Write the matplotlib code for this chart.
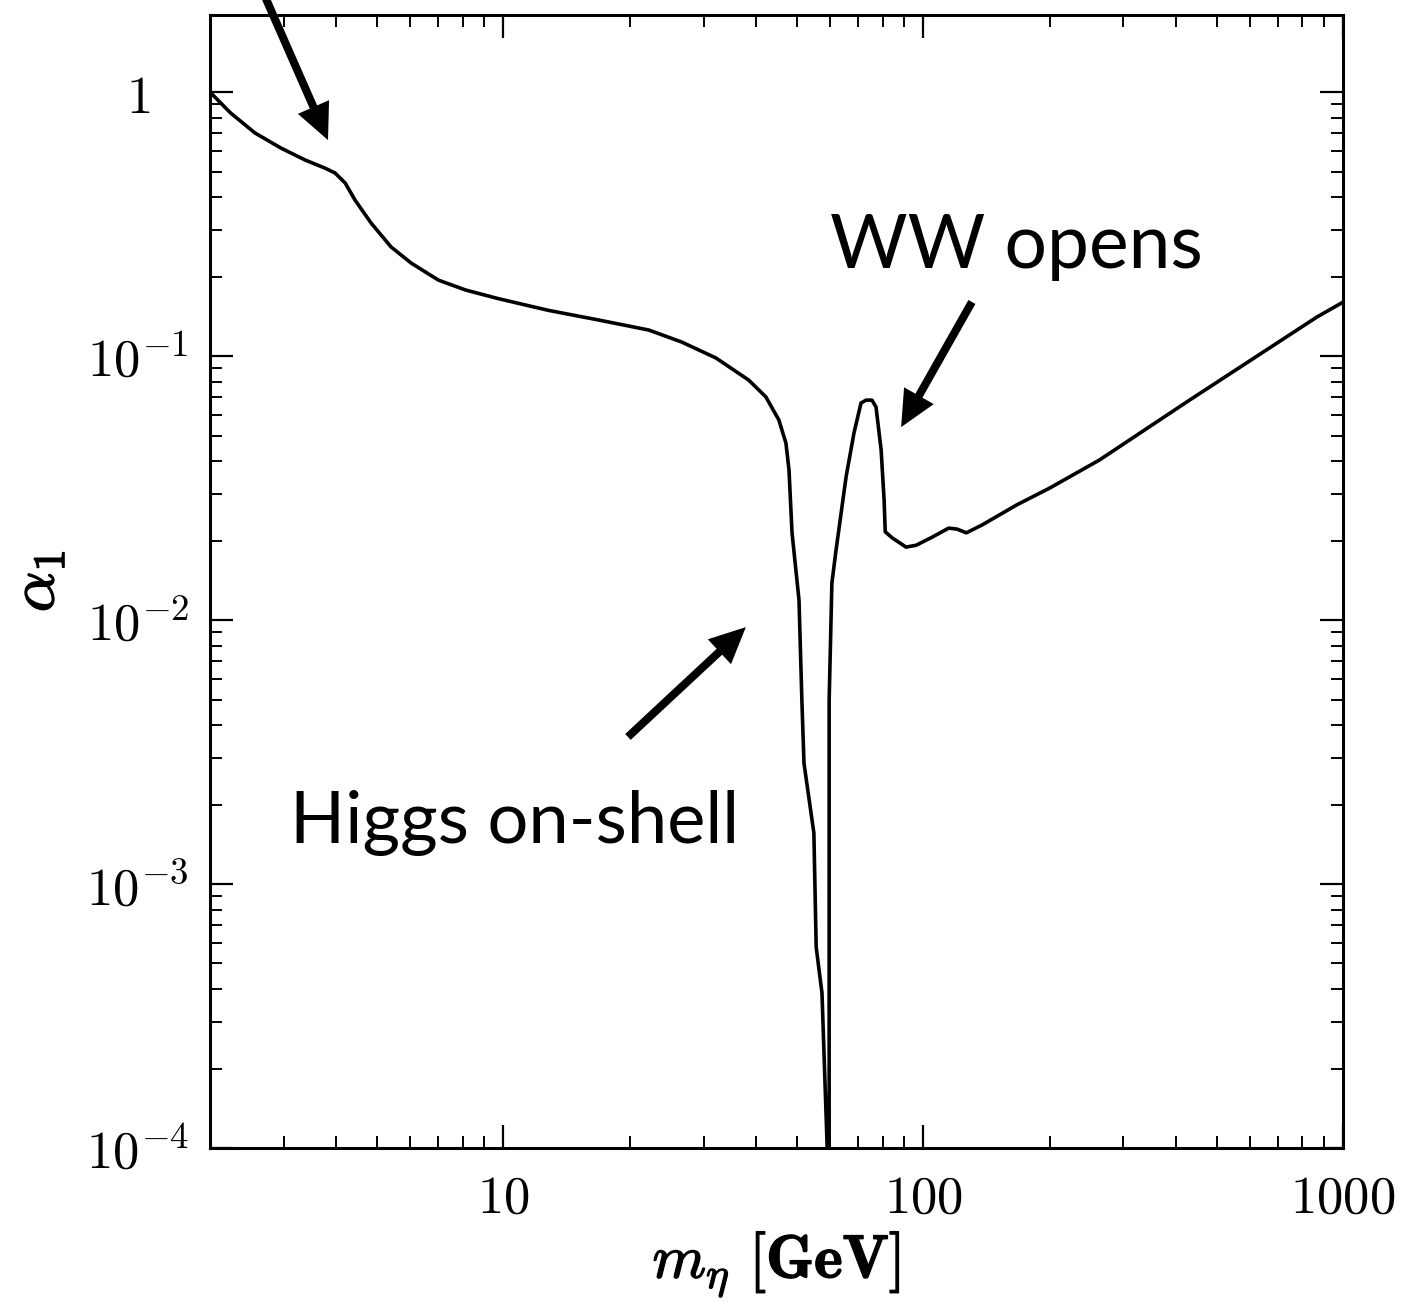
import numpy as np
import matplotlib
matplotlib.use("Agg")
from matplotlib import pyplot as plt
from matplotlib import patheffects
from matplotlib.ticker import FixedLocator, LogLocator, NullFormatter

plt.rcParams['mathtext.fontset'] = 'cm'

# relic-density curve alpha_1 vs m_eta
m_eta = [2.0, 2.24, 2.56, 2.95, 3.37, 3.76, 3.97, 4.20, 4.43, 4.84, 5.40, 6.03,
         7.00, 8.12, 9.73, 12.8, 16.85, 22.2, 26.6, 32.1, 38.4, 42.2, 45.3,
         47.1, 47.9, 48.7, 50.6, 51.4, 52.0, 54.9, 55.6, 57.4, 59.0, 59.3,
         59.7, 59.7, 59.7, 60.6, 62.0, 65.5, 68.4, 71.1, 73.1, 75.5, 77.2,
         79.4, 80.7, 81.2, 84.3, 91.0, 96.2, 105, 115, 120.5, 126.7, 138, 167,
         200, 263, 431, 867, 1000]
alpha1 = [1.0, 0.833, 0.70, 0.614, 0.553, 0.515, 0.494, 0.452, 0.390, 0.319,
          0.259, 0.225, 0.194, 0.178, 0.165, 0.149, 0.137, 0.1255, 0.113,
          0.0983, 0.0811, 0.070, 0.0573, 0.0468, 0.037, 0.0214, 0.0119,
          0.00498, 0.00287, 0.00156, 0.000577, 0.000386, 0.000105, 0.00008,
          0.0001, 0.0025, 0.00498, 0.0138, 0.0184, 0.0348, 0.0511, 0.0664,
          0.0681, 0.0681, 0.0641, 0.0441, 0.0285, 0.0216, 0.0205, 0.0189,
          0.0192, 0.0206, 0.0223, 0.0221, 0.0214, 0.0229, 0.0273, 0.0316,
          0.0404, 0.0681, 0.1406, 0.160]

x_ticks = [10, 100, 1000]
x_ticklabels = [r'$10$', r'$100$', r'$1000$']
y_ticks = [1e-4, 1e-3, 1e-2, 1e-1, 1]
y_ticklabels = [r'$10^{-4}$', r'$10^{-3}$', r'$10^{-2}$', r'$10^{-1}$', r'$1$']

# annotation arrows: tip (data), tail (axes fraction)
arrows = [
    ((3.82, 0.658), (0.046, 1.022)),
    ((88.6, 0.0538), (0.6725, 0.7467)),
    ((37.8, 0.0094), (0.3689, 0.3628)),
]

fig = plt.figure(figsize=(14.03, 13.02), dpi=100)
ax = fig.add_axes([0.1497, 0.1183, 0.8075, 0.8702])

ax.plot(m_eta, alpha1, color='black', lw=2.6, solid_joinstyle='round')
ax.set_xscale('log')
ax.set_yscale('log')
ax.set_xlim(2, 1000)
ax.set_ylim(1e-4, 1.96)

ax.xaxis.set_major_locator(FixedLocator(x_ticks))
ax.set_xticklabels(x_ticklabels)
ax.xaxis.set_minor_locator(LogLocator(base=10, subs=np.arange(2, 10)))
ax.xaxis.set_minor_formatter(NullFormatter())
ax.yaxis.set_major_locator(FixedLocator(y_ticks))
ax.set_yticklabels(y_ticklabels)
ax.yaxis.set_minor_locator(LogLocator(base=10, subs=np.arange(2, 10)))
ax.yaxis.set_minor_formatter(NullFormatter())

ax.tick_params(which='both', direction='in', top=True, right=True, labelsize=38)
ax.tick_params(which='major', length=16.5, width=1.6)
ax.tick_params(which='minor', length=8.5, width=1.4)
ax.tick_params(axis='x', pad=17)
ax.tick_params(axis='y', pad=52)
for lab in ax.get_yticklabels():
    lab.set_horizontalalignment('center')
for sp in ax.spines.values():
    sp.set_linewidth(2.2)

bold = [patheffects.withStroke(linewidth=1.0, foreground='black')]
xl = ax.set_xlabel(r'$m_\eta\ [\mathbf{GeV}]$', fontsize=44, labelpad=4)
yl = ax.set_ylabel(r'$\alpha_1$', fontsize=46, labelpad=14)
xl.set_path_effects(bold)
yl.set_path_effects(bold)

for tip, tail in arrows:
    ax.annotate('', xy=tip, xycoords='data', xytext=tail, textcoords='axes fraction',
                annotation_clip=False,
                arrowprops=dict(arrowstyle='simple,head_length=2.6,head_width=2.45,tail_width=0.58',
                                mutation_scale=10, color='black', lw=0,
                                shrinkA=0, shrinkB=0))

ax.text(0.5475, 0.7769, 'WW opens', transform=ax.transAxes, fontsize=54,
        family='Lato', ha='left', va='baseline')
ax.text(0.0706, 0.2692, 'Higgs on-shell', transform=ax.transAxes, fontsize=52,
        family='Lato', ha='left', va='baseline')

fig.savefig('out.png', dpi=100)
